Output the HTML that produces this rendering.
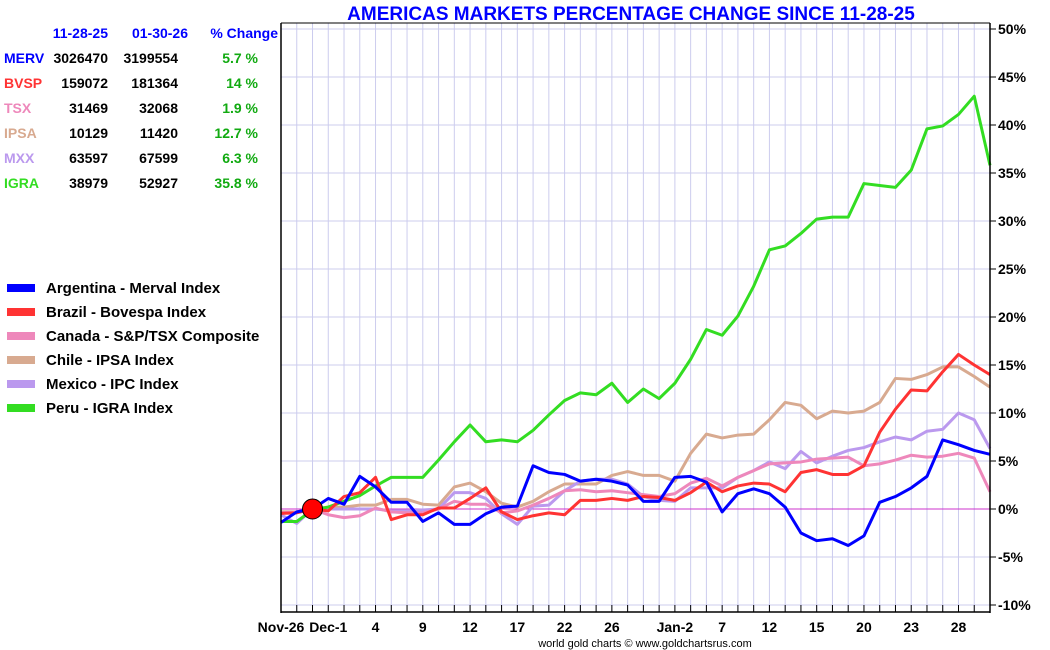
<!DOCTYPE html>
<html><head><meta charset="utf-8"><style>
body{margin:0;background:#fff;}
svg{display:block;font-family:"Liberation Sans",Arial,sans-serif;}
</style></head><body>
<svg id="chart" width="1050" height="650" viewBox="0 0 1050 650">
<rect width="1050" height="650" fill="#fff"/>
<text x="631" y="20" text-anchor="middle" font-size="19" font-weight="bold" fill="#0000ff">AMERICAS MARKETS PERCENTAGE CHANGE SINCE 11-28-25</text>
<g id="table" font-size="14" font-weight="bold"></g>
<g id="legend" font-size="15" font-weight="bold"></g>
<g id="grid"></g>
<g id="series"></g>
<g id="axes"></g>
<text x="645" y="647" text-anchor="middle" font-size="11" fill="#000">world gold charts © www.goldchartsrus.com</text>
</svg>
<script>
const NS="http://www.w3.org/2000/svg";
const argentina=[-1.4,-0.3,0,1.1,0.5,3.4,2.3,0.7,0.7,-1.3,-0.4,-1.6,-1.6,-0.5,0.2,0.3,4.5,3.8,3.6,2.9,3.1,2.9,2.5,0.8,0.8,3.3,3.4,2.8,-0.3,1.6,2.1,1.6,0.2,-2.5,-3.3,-3.1,-3.8,-2.8,0.7,1.3,2.2,3.4,7.2,6.7,6.1,5.7];
const brazil=[-0.45,-0.4,0,-0.2,1.3,1.7,3.3,-1.1,-0.6,-0.6,0.1,0.1,1.1,2.2,-0.3,-1.1,-0.7,-0.4,-0.6,0.9,0.9,1.1,0.9,1.3,1.2,0.9,1.7,2.8,1.8,2.4,2.7,2.6,1.8,3.8,4.1,3.6,3.6,4.5,8.0,10.4,12.4,12.3,14.3,16.1,15.0,14.0];
const canada=[-0.4,-0.3,0,-0.6,-0.9,-0.7,0.1,-0.3,-0.4,-0.4,0,0.8,0.5,0.5,-0.4,-0.2,0.4,1.1,1.9,2.0,1.8,1.9,1.7,1.5,1.3,1.6,2.7,3.2,2.4,3.3,4.0,4.7,4.8,4.9,5.2,5.3,5.4,4.5,4.7,5.1,5.6,5.4,5.5,5.8,5.3,1.8];
const chile=[-0.3,-0.3,0,0.2,0.2,0.4,0.4,1.0,1.0,0.5,0.4,2.3,2.7,1.8,0.6,0.2,0.8,1.8,2.6,2.6,2.6,3.5,3.9,3.5,3.5,2.9,5.8,7.8,7.4,7.7,7.8,9.3,11.1,10.8,9.4,10.2,10.0,10.2,11.1,13.6,13.5,14.0,14.8,14.8,13.8,12.7];
const mexico=[-0.6,-1.5,0,0,0,0,0,-0.2,-0.2,-0.1,0,1.7,1.7,1.1,-0.5,-1.6,0.3,0.4,1.9,2.9,3.1,3.1,2.6,1.3,0.9,0.8,2.2,2.2,2.2,3.3,4.0,4.9,4.2,6.0,4.8,5.5,6.1,6.4,7.0,7.5,7.2,8.1,8.3,10.0,9.3,6.3];
const peru=[-1.3,-1.3,-0.1,0.2,0.8,1.4,2.4,3.3,3.3,3.3,5.1,7.0,8.75,7.0,7.2,7.0,8.2,9.8,11.3,12.1,11.9,13.1,11.1,12.5,11.5,13.1,15.6,18.7,18.1,20.1,23.2,27.0,27.4,28.7,30.2,30.4,30.4,33.9,33.7,33.5,35.3,39.6,39.9,41.1,43.0,35.8];
const xTickIdx=[0,3,6,9,12,15,18,21,25,28,31,34,37,40,43];
const xTickLabels=["Nov-26","Dec-1","4","9","12","17","22","26","Jan-2","7","12","15","20","23","28"];
const yTicks=[-10,-5,0,5,10,15,20,25,30,35,40,45,50];
const N=46;
const X=i=>281+i*(709/(N-1));
const Y=v=>509-v*9.6;
const g=id=>document.getElementById(id);
function mk(tag,attrs,parent){const e=document.createElementNS(NS,tag);for(const k in attrs)e.setAttribute(k,attrs[k]);parent.appendChild(e);return e;}
const grid=g('grid');
for(let i=0;i<N;i++){const l=mk('line',{x1:X(i),x2:X(i),y1:23,y2:612,stroke:'#ccccee','stroke-width':1},grid);

}
for(const t of yTicks){const l=mk('line',{x1:281,x2:990,y1:Y(t),y2:Y(t),stroke:t===0?'#cc33cc':'#ccccee','stroke-width':1},grid);

}
const series=[[argentina,'#0000ff','argentina'],[peru,'#33dd22','peru'],[chile,'#d8aa90','chile'],[mexico,'#bb99ee','mexico'],[canada,'#ee88bb','canada'],[brazil,'#ff3333','brazil']];
const sg=g('series');
for(const [d,c,n] of [series[2],series[3],series[4],series[1],series[5],series[0]]){
 const p=mk('polyline',{points:d.map((v,i)=>X(i)+','+Y(v)).join(' '),fill:'none',stroke:c,'stroke-width':3,'stroke-linejoin':'round'},sg);
 
 
}
const dot=mk('circle',{cx:X(2),cy:Y(0),r:10,fill:'#ff0000',stroke:'#000','stroke-width':1},sg);


const ax=g('axes');
mk('line',{x1:281,x2:281,y1:23,y2:613,stroke:'#000','stroke-width':1.5},ax);
mk('line',{x1:281,x2:990,y1:23,y2:23,stroke:'#000','stroke-width':1},ax);
mk('line',{x1:990,x2:990,y1:23,y2:613,stroke:'#000','stroke-width':1.5},ax);
mk('line',{x1:281,x2:990,y1:612,y2:612,stroke:'#000','stroke-width':1.5},ax);
for(let i=0;i<N;i++)mk('line',{x1:X(i),x2:X(i),y1:605,y2:612,stroke:'#000'},ax);
for(const t of yTicks){mk('line',{x1:990,x2:996,y1:Y(t),y2:Y(t),stroke:'#000'},ax);
 const tx=mk('text',{x:998,y:Y(t)+5,'font-size':14,'font-weight':'bold',fill:'#000'},ax);tx.textContent=t+'%';
 
 }
xTickIdx.forEach((idx,k)=>{
 const tx=mk('text',{x:X(idx),y:632,'text-anchor':'middle','font-size':14,'font-weight':'bold',fill:'#000'},ax);tx.textContent=xTickLabels[k];
 
 });
const tb=g('table');
const hdr=[['11-28-25',108],['01-30-26',188],['% Change',278]];
for(const [t,x] of hdr){const e=mk('text',{x:x,y:38,'text-anchor':'end',fill:'#0000ff'},tb);e.textContent=t;}
const rows=[['MERV','#0000ff','3026470','3199554','5.7 %'],['BVSP','#ff3333','159072','181364','14 %'],['TSX','#ee88bb','31469','32068','1.9 %'],['IPSA','#d8aa90','10129','11420','12.7 %'],['MXX','#bb99ee','63597','67599','6.3 %'],['IGRA','#33dd22','38979','52927','35.8 %']];
rows.forEach((r,k)=>{const y=63+k*25;
 let e=mk('text',{x:4,y:y,fill:r[1]},tb);e.textContent=r[0];
 e=mk('text',{x:108,y:y,'text-anchor':'end',fill:'#000'},tb);e.textContent=r[2];
 e=mk('text',{x:178,y:y,'text-anchor':'end',fill:'#000'},tb);e.textContent=r[3];
 e=mk('text',{x:258,y:y,'text-anchor':'end',fill:'#11aa11'},tb);e.textContent=r[4];});
const lg=g('legend');
const legendItems=[['Argentina - Merval Index','#0000ff'],['Brazil - Bovespa Index','#ff3333'],['Canada - S&P/TSX Composite','#ee88bb'],['Chile - IPSA Index','#d8aa90'],['Mexico - IPC Index','#bb99ee'],['Peru - IGRA Index','#33dd22']];
legendItems.forEach((it,k)=>{const y=288+k*24;
 const r=mk('rect',{x:7,y:y-4,width:28,height:8,fill:it[1]},lg);
 
 
 const t=mk('text',{x:46,y:y+5,fill:'#000'},lg);t.textContent=it[0];
 
 });
</script>
</body></html>
